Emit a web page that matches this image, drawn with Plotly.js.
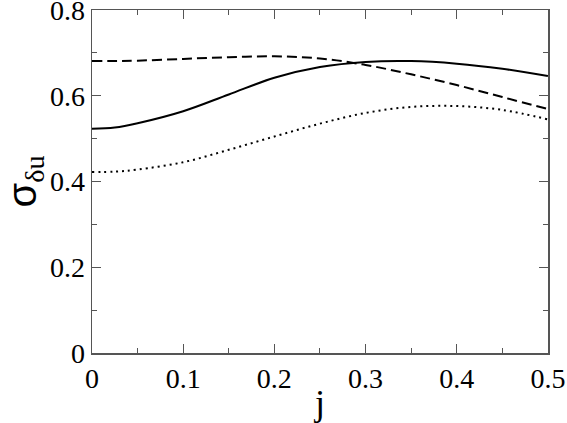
<!DOCTYPE html>
<html>
<head>
<meta charset="utf-8">
<script src="https://cdn.plot.ly/plotly-3.0.1.min.js"></script>
<style>
  body { margin: 0; background: #fff; }
  #graph-container { width: 567px; height: 423px; }
</style>
</head>
<body>
<div id="graph-container"></div>
<script>
// j values and the three curves
let jValues = [0, 0.025, 0.05, 0.1, 0.15, 0.2, 0.25, 0.3, 0.35, 0.4, 0.45, 0.5];
let solidValues = [0.523, 0.526, 0.536, 0.564, 0.603, 0.642, 0.667, 0.679, 0.681, 0.675, 0.663, 0.646];
let dashedValues = [0.681, 0.681, 0.682, 0.686, 0.690, 0.692, 0.687, 0.672, 0.650, 0.625, 0.597, 0.569];
let dottedValues = [0.422, 0.423, 0.428, 0.445, 0.474, 0.505, 0.535, 0.560, 0.574, 0.576, 0.567, 0.545];

// tick labels
let xTicks = [0, 0.1, 0.2, 0.3, 0.4, 0.5];
let xTickLabels = ['0', '0.1', '0.2', '0.3', '0.4', '0.5'];
let yTicks = [0, 0.2, 0.4, 0.6, 0.8];
let yTickLabels = ['0', '0.2', '0.4', '0.6', '0.8'];

var serif = 'Liberation Serif';

function curve(yValues, dash, width) {
    return {
        x: jValues,
        y: yValues,
        mode: 'lines',
        type: 'scatter',
        line: { color: '#000', width: width, dash: dash, shape: 'spline', smoothing: 1 },
        hoverinfo: 'skip'
    };
}

var data = [
    curve(solidValues, 'solid', 2),
    curve(dashedValues, '10px,5px', 2),
    curve(dottedValues, '2px,4px', 2)
];

var layout = {
    width: 567,
    height: 423,
    margin: { l: 92, r: 19, t: 10, b: 70 },
    paper_bgcolor: '#fff',
    plot_bgcolor: '#fff',
    showlegend: false,
    font: { family: serif, size: 28, color: '#000' },
    xaxis: {
        range: [0, 0.5001],
        showgrid: false,
        zeroline: false,
        showline: true,
        linecolor: '#555',
        linewidth: 1.5,
        mirror: 'ticks',
        ticks: 'inside',
        ticklen: 9,
        tickwidth: 1,
        tickcolor: '#555',
        tickmode: 'array',
        tickvals: xTicks,
        ticktext: xTickLabels,
        tickangle: 0,
        ticklabeloverflow: 'allow',
        tickfont: { family: serif, size: 28, color: '#000' },
        minor: { tickvals: [0.05, 0.15, 0.25, 0.35, 0.45], ticks: 'inside', ticklen: 5, tickcolor: '#555', showgrid: false },
        title: { text: 'j', font: { family: serif, size: 36, color: '#000' }, standoff: 0 }
    },
    yaxis: {
        range: [0, 0.8001],
        showgrid: false,
        zeroline: false,
        showline: true,
        linecolor: '#555',
        linewidth: 1.5,
        mirror: 'ticks',
        ticks: 'inside',
        ticklen: 9,
        tickwidth: 1,
        tickcolor: '#555',
        tickmode: 'array',
        tickvals: yTicks,
        ticktext: yTickLabels,
        ticklabeloverflow: 'allow',
        tickfont: { family: serif, size: 28, color: '#000' },
        minor: { tickvals: [0.1, 0.3, 0.5, 0.7], ticks: 'inside', ticklen: 5, tickcolor: '#555', showgrid: false },
        title: {
            text: 'σ<sub><span style="font-family:Liberation Serif">δu</span></sub>',
            font: { family: 'Liberation Sans', size: 40, color: '#000' },
            standoff: 16
        }
    }
};

Plotly.newPlot('graph-container', data, layout, { staticPlot: true });
</script>
</body>
</html>
